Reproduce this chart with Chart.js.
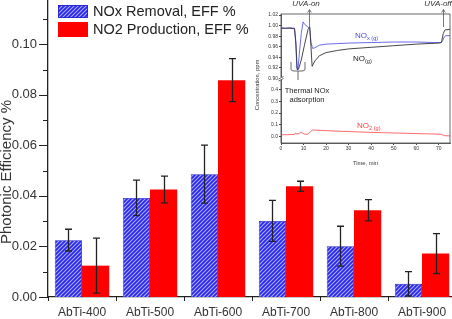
<!DOCTYPE html>
<html>
<head>
<meta charset="utf-8">
<script src="https://cdn.jsdelivr.net/npm/chart.js@4.4.1/dist/chart.umd.min.js"></script>
<style>
    html, body { margin: 0; padding: 0; background: #fff; overflow: hidden; width: 452px; height: 319px; }
    #wrap { position: relative; width: 452px; height: 319px; overflow: hidden; }
    #main { position: absolute; left: 0; top: 0; }
    #inset { position: absolute; left: 247px; top: 0; }
</style>
</head>
<body>
<div id="wrap">
    <canvas id="main" width="460" height="319"></canvas>
    <canvas id="inset" width="205" height="168"></canvas>
</div>
<script>
const FONT = "'Liberation Sans', Arial, sans-serif";

// main bar chart
const categories = ['AbTi-400', 'AbTi-500', 'AbTi-600', 'AbTi-700', 'AbTi-800', 'AbTi-900'];
const noxRemoval = [0.0225, 0.0392, 0.0486, 0.0301, 0.0201, 0.0052];
const noxRemovalErr = [0.0043, 0.0070, 0.0115, 0.0081, 0.0079, 0.0048];
const no2Production = [0.0124, 0.0425, 0.0858, 0.0438, 0.0343, 0.0172];
const no2ProductionErr = [0.0109, 0.0053, 0.0085, 0.0020, 0.0042, 0.0079];

// inset: concentration vs time
const noxTime = [0, 2, 4, 6, 6.6, 7.0, 7.5, 8.2, 9.0, 9.8, 10.6, 12.0, 12.7, 13.3, 14.0, 15, 17, 20, 25, 30, 40, 50, 60, 68, 71, 71.8, 72.5, 73.2, 75];
const noxConc = [0.996, 0.995, 0.996, 0.995, 0.970, 0.920, 0.916, 0.950, 0.985, 1.007, 1.002, 0.997, 0.995, 0.968, 0.957, 0.958, 0.963, 0.965, 0.966, 0.967, 0.968, 0.969, 0.969, 0.968, 0.968, 0.972, 0.979, 0.981, 0.981];
const noTime = [0, 2, 4, 6, 6.6, 7.2, 7.8, 9, 10.5, 12.0, 12.8, 13.3, 13.8, 15, 17, 20, 25, 30, 40, 50, 60, 70, 71.2, 72.0, 72.8, 75];
const noConc = [0.995, 0.995, 0.995, 0.994, 0.965, 0.917, 0.918, 0.935, 0.965, 0.993, 0.997, 0.960, 0.923, 0.933, 0.943, 0.949, 0.953, 0.956, 0.959, 0.962, 0.965, 0.967, 0.968, 0.985, 0.992, 0.993];
const no2Time = [0, 3, 6, 6.5, 7, 8, 8.7, 9.5, 10.5, 12, 13, 14, 18, 25, 35, 45, 55, 65, 71, 72.5, 75];
const no2Conc = [0.015, 0.016, 0.018, 0.030, 0.022, 0.025, 0.036, 0.030, 0.020, 0.020, 0.040, 0.056, 0.052, 0.046, 0.039, 0.033, 0.028, 0.023, 0.020, 0.008, 0.005];

function hatch() {
    const c = document.createElement('canvas');
    c.width = 4; c.height = 4;
    const g = c.getContext('2d');
    g.fillStyle = '#2626ee';
    g.fillRect(0, 0, 4, 4);
    g.strokeStyle = '#a9a9ff';
    g.lineWidth = 1.2;
    g.beginPath();
    g.moveTo(-1, 5); g.lineTo(5, -1);
    g.moveTo(3, 5); g.lineTo(5, 3);
    g.moveTo(-1, 1); g.lineTo(1, -1);
    g.stroke();
    return g.createPattern(c, 'repeat');
}
const blueFill = hatch();

const mainExtras = {
    id: 'mainExtras',
    afterDraw(chart) {
        const { ctx, chartArea: a, scales: { x, y } } = chart;
        ctx.save();
        ctx.strokeStyle = '#222';
        ctx.lineWidth = 1;

        // y ticks, minor every 0.01
        for (let i = 0; i <= 11; i++) {
            const py = Math.round(y.getPixelForValue(i / 100)) + 0.5;
            const len = i % 2 === 0 ? 9 : 5;
            ctx.beginPath(); ctx.moveTo(a.left - len, py); ctx.lineTo(a.left, py); ctx.stroke();
        }
        // x ticks at category borders
        for (let i = 0; i <= categories.length; i++) {
            const px = Math.round(x.left + i * x.width / categories.length) + 0.5;
            ctx.beginPath(); ctx.moveTo(px, a.bottom); ctx.lineTo(px, a.bottom + 4); ctx.stroke();
        }

        // error bars
        ctx.strokeStyle = '#222';
        ctx.lineWidth = 1.3;
        [[0, noxRemovalErr], [1, no2ProductionErr]].forEach(([di, errs]) => {
            const meta = chart.getDatasetMeta(di);
            const vals = chart.data.datasets[di].data;
            meta.data.forEach((bar, i) => {
                const cx = Math.round(bar.x) + 0.5;
                const t = y.getPixelForValue(vals[i] + errs[i]);
                const b = y.getPixelForValue(vals[i] - errs[i]);
                ctx.beginPath();
                ctx.moveTo(cx, t); ctx.lineTo(cx, b);
                ctx.moveTo(cx - 3.5, t); ctx.lineTo(cx + 3.5, t);
                ctx.moveTo(cx - 3.5, b); ctx.lineTo(cx + 3.5, b);
                ctx.stroke();
            });
        });

        // legend
        const ds = chart.data.datasets;
        ctx.fillStyle = ds[0].backgroundColor;
        ctx.fillRect(58, 5, 30, 13);
        ctx.strokeStyle = '#2020d0'; ctx.lineWidth = 0.8;
        ctx.strokeRect(58.5, 5.5, 29, 12);
        ctx.fillStyle = ds[1].backgroundColor;
        ctx.fillRect(58, 22, 30, 15);
        ctx.fillStyle = '#222';
        ctx.font = '14.5px ' + FONT;
        ctx.textBaseline = 'middle';
        ctx.textAlign = 'left';
        ctx.fillText(ds[0].label, 93, 12);
        ctx.fillText(ds[1].label, 93, 30);

        // y title
        ctx.translate(7, 172);
        ctx.rotate(-Math.PI / 2);
        ctx.textAlign = 'center';
        ctx.font = '15px ' + FONT;
        ctx.fillStyle = '#333';
        ctx.fillText('Photonic Efficiency %', 0, 0);
        ctx.restore();
    }
};

new Chart(document.getElementById('main'), {
    type: 'bar',
    data: {
        labels: categories,
        datasets: [
            { label: 'NOx Removal, EFF %', data: noxRemoval, backgroundColor: blueFill, borderColor: '#2020d0', borderWidth: 0.8, categoryPercentage: 0.8, barPercentage: 1 },
            { label: 'NO2 Production, EFF %', data: no2Production, backgroundColor: '#ff0000', borderWidth: 0, categoryPercentage: 0.8, barPercentage: 1 },
        ]
    },
    options: {
        responsive: false,
        animation: false,
        layout: { padding: { left: 0, right: 4, top: 0, bottom: 0 } },
        plugins: { legend: { display: false }, tooltip: { enabled: false } },
        scales: {
            x: {
                grid: { display: false, drawTicks: false },
                border: { display: true, color: '#222', width: 1.3 },
                ticks: { color: '#333', font: { family: FONT, size: 12 }, padding: 8, maxRotation: 0, autoSkip: false },
                afterFit(s) { s.height = 22; s.paddingLeft = 0; s.paddingRight = 0; },
            },
            y: {
                min: 0,
                max: 0.1175,
                grid: { display: false, drawTicks: false },
                border: { display: true, color: '#222', width: 1.3 },
                ticks: { stepSize: 0.02, includeBounds: false, color: '#333', font: { family: FONT, size: 13 }, padding: 11, callback: v => v.toFixed(2) },
                afterFit(s) { s.width = 48; s.paddingTop = 0; s.paddingBottom = 0; },
            }
        }
    },
    plugins: [mainExtras]
});

// inset
const zip = (xs, ys) => xs.map((t, i) => ({ x: t, y: ys[i] }));

function sub(ctx, base, subText, x, y, size) {
    ctx.font = size + 'px ' + FONT;
    ctx.fillText(base, x, y);
    const w = ctx.measureText(base).width;
    ctx.font = (size * 0.7) + 'px ' + FONT;
    ctx.fillText(subText, x + w, y + size * 0.3);
}

const insetExtras = {
    id: 'insetExtras',
    afterDraw(chart) {
        const { ctx, chartArea: a, scales: { x, yHigh } } = chart;
        ctx.save();
        ctx.strokeStyle = '#444';
        ctx.lineWidth = 0.8;
        ctx.strokeRect(a.left, a.top, a.right - a.left, a.bottom - a.top);

        // axis break
        const by = yHigh.bottom;
        ctx.fillStyle = '#fff';
        ctx.fillRect(a.left - 2, by - 1.5, 4, 3);
        ctx.beginPath();
        ctx.moveTo(a.left - 2.5, by + 0.5); ctx.lineTo(a.left + 2.5, by - 2);
        ctx.moveTo(a.left - 2.5, by + 2.5); ctx.lineTo(a.left + 2.5, by);
        ctx.stroke();

        // UVA markers
        ctx.strokeStyle = '#555';
        ctx.lineWidth = 0.8;
        [12.5, 72].forEach(t => {
            const px = Math.round(x.getPixelForValue(t)) + 0.5;
            ctx.beginPath();
            ctx.moveTo(px, 10); ctx.lineTo(px, 27);
            ctx.moveTo(px - 1.8, 12.5); ctx.lineTo(px, 9.5); ctx.lineTo(px + 1.8, 12.5);
            ctx.stroke();
        });
        ctx.fillStyle = '#333';
        ctx.textAlign = 'center';
        ctx.textBaseline = 'middle';
        ctx.font = 'italic 8px ' + FONT;
        ctx.fillText('UVA-on', 59, 4);
        ctx.fillText('UVA-off', 191, 4);

        ctx.font = '7.5px ' + FONT;
        ctx.fillStyle = '#222';
        ctx.fillText('Thermal NOx', 60, 91);
        ctx.fillText('adsorption', 60, 100);

        // bracket
        ctx.strokeStyle = '#444';
        ctx.beginPath();
        ctx.moveTo(44, 62); ctx.lineTo(44, 69); ctx.quadraticCurveTo(44, 71, 47, 71); ctx.lineTo(55, 71);
        ctx.quadraticCurveTo(58, 71, 58, 69); ctx.lineTo(58, 62);
        ctx.moveTo(51, 71); ctx.lineTo(51, 80);
        ctx.stroke();

        ctx.textAlign = 'left';
        ctx.fillStyle = '#4a4ae0';
        sub(ctx, 'NO', 'x (g)', 108, 36, 8);
        ctx.fillStyle = '#222';
        sub(ctx, 'NO', '(g)', 106, 59, 8);
        ctx.fillStyle = '#ff4040';
        sub(ctx, 'NO', '2 (g)', 110, 126, 8);

        // y title
        ctx.translate(10, 85);
        ctx.rotate(-Math.PI / 2);
        ctx.textAlign = 'center';
        ctx.fillStyle = '#333';
        ctx.font = '5.8px ' + FONT;
        ctx.fillText('Concentration, ppm', 0, 0);
        ctx.restore();
    }
};

const tickFont = { family: FONT, size: 5 };
new Chart(document.getElementById('inset'), {
    type: 'line',
    data: {
        datasets: [
            { label: 'NO', data: zip(noTime, noConc), yAxisID: 'yHigh', borderColor: '#333', borderWidth: 0.9, pointRadius: 0, tension: 0 },
            { label: 'NOx', data: zip(noxTime, noxConc), yAxisID: 'yHigh', borderColor: '#5a5ae8', borderWidth: 0.9, pointRadius: 0, tension: 0 },
            { label: 'NO2', data: zip(no2Time, no2Conc), yAxisID: 'yLow', borderColor: '#ff5a5a', borderWidth: 0.9, pointRadius: 0, tension: 0 },
        ]
    },
    options: {
        responsive: false,
        animation: false,
        layout: { padding: { left: 0, right: 2, top: 14, bottom: 0 } },
        plugins: { legend: { display: false }, tooltip: { enabled: false } },
        scales: {
            x: {
                type: 'linear', min: 0, max: 75,
                grid: { drawOnChartArea: false, tickLength: 2, color: '#444' },
                border: { color: '#444', width: 0.8 },
                ticks: { stepSize: 10, includeBounds: false, autoSkip: false, color: '#333', font: tickFont, padding: 1, maxRotation: 0 },
                title: { display: true, text: 'Time, min', color: '#333', font: { family: FONT, size: 5.8 }, padding: 1 },
                afterFit(s) { s.height = 25; s.paddingLeft = 0; s.paddingRight = 0; },
            },
            yLow: {
                type: 'linear', position: 'left', stack: 'conc', stackWeight: 1,
                min: -0.055, max: 0.495,
                grid: { drawOnChartArea: false, tickLength: 2, color: '#444' },
                border: { color: '#444', width: 0.8 },
                ticks: { stepSize: 0.1, includeBounds: false, autoSkip: false, color: '#333', font: tickFont, padding: 1, callback: v => v.toFixed(1) },
                afterFit(s) { s.width = 34; s.paddingTop = 0; s.paddingBottom = 0; },
            },
            yHigh: {
                type: 'linear', position: 'left', stack: 'conc', stackWeight: 1,
                min: 0.9, max: 1.022,
                grid: { drawOnChartArea: false, tickLength: 2, color: '#444' },
                border: { color: '#444', width: 0.8 },
                ticks: { stepSize: 0.02, includeBounds: false, autoSkip: false, color: '#333', font: tickFont, padding: 1, callback: v => v.toFixed(2) },
                afterFit(s) { s.width = 34; s.paddingTop = 0; s.paddingBottom = 0; },
            }
        }
    },
    plugins: [insetExtras]
});
</script>
</body>
</html>
